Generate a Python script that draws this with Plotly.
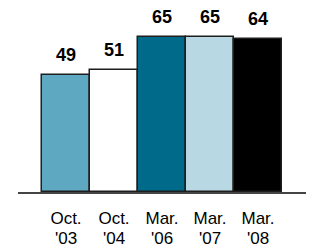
import plotly.graph_objects as go

months = ["Oct.", "Oct.", "Mar.", "Mar.", "Mar."]
years = ["'03", "'04", "'06", "'07", "'08"]
values = [49, 51, 65, 65, 64]
colors = ["#5EA9C1", "#FFFFFF", "#006A8A", "#B8D8E3", "#000000"]

xs = list(range(len(months)))
FONT = "Liberation Sans, Arial, sans-serif"

fig = go.Figure()
fig.add_trace(go.Bar(
    x=xs, y=values,
    marker=dict(color=colors, line=dict(color="#1e1e1e", width=1.5)),
    hoverinfo="skip",
))

for x, v in zip(xs, values):
    fig.add_annotation(
        x=x, y=v, text=f"<b>{v}</b>", showarrow=False,
        yanchor="bottom", yshift=8,
        font=dict(family=FONT, size=18, color="#000000"),
    )

for x, yr in zip(xs, years):
    fig.add_annotation(
        x=x, y=0, text=yr, showarrow=False,
        yanchor="middle", yshift=-46,
        font=dict(family=FONT, size=17, color="#000000"),
    )

fig.update_layout(
    width=312, height=248,
    margin=dict(l=18, r=6, t=0, b=56),
    paper_bgcolor="white", plot_bgcolor="white",
    bargap=0,
    showlegend=False,
    font=dict(family=FONT, size=17, color="#000000"),
)
fig.update_xaxes(
    range=[-1, 5], tickvals=xs, ticktext=months,
    showline=True, linecolor="#444444", linewidth=2,
    showgrid=False, zeroline=False, ticks="",
    ticklabelstandoff=10,
    automargin=False,
)
fig.update_yaxes(range=[0, 80.5], visible=False, showgrid=False, zeroline=False)

fig.write_html(
    "out.html",
    config={"displayModeBar": False},
    post_script="document.body.style.margin='0';document.body.style.overflow='hidden';",
)
